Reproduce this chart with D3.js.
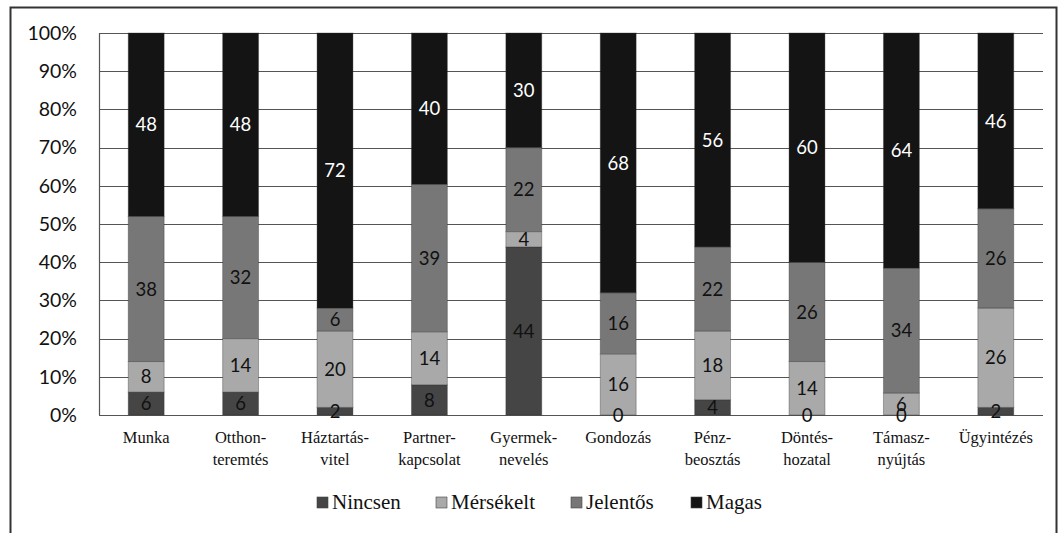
<!DOCTYPE html>
<html>
<head>
<meta charset="utf-8">
<script src="https://cdn.jsdelivr.net/npm/d3@7/dist/d3.min.js"></script>
<style>
  body { margin: 0; background: #fff; }
  svg { display: block; }
</style>
</head>
<body>
<svg id="chart" width="1061" height="533"></svg>
<script>
// Category labels (two-line labels split on "\n")
const categories = [
  "Munka", "Otthon-\nteremtés", "Háztartás-\nvitel", "Partner-\nkapcsolat", "Gyermek-\nnevelés",
  "Gondozás", "Pénz-\nbeosztás", "Döntés-\nhozatal", "Támasz-\nnyújtás", "Ügyintézés"
];
const seriesNames = ["Nincsen", "Mérsékelt", "Jelentős", "Magas"];
const nincsen   = [6, 6, 2, 8, 44, 0, 4, 0, 0, 2];
const merseklet = [8, 14, 20, 14, 4, 16, 18, 14, 6, 26];
const jelentos  = [38, 32, 6, 39, 22, 16, 22, 26, 34, 26];
const magas     = [48, 48, 72, 40, 30, 68, 56, 60, 64, 46];
const yTicks = [0, 0.1, 0.2, 0.3, 0.4, 0.5, 0.6, 0.7, 0.8, 0.9, 1];

const colors = ["#454545", "#a9a9a9", "#777777", "#141414"];
const labelColors = ["#111", "#111", "#111", "#fff"];
const SERIF = "Liberation Serif";
const SANS = "Lato";

const rows = categories.map((c, i) => ({
  cat: c,
  Nincsen: nincsen[i], "Mérsékelt": merseklet[i], "Jelentős": jelentos[i], Magas: magas[i]
}));

const svg = d3.select("#chart");
const plotLeft = 99, plotRight = 1043, plotTop = 33, plotBottom = 415;

// outer frame
svg.append("rect").attr("x", 10.5).attr("y", 7.5).attr("width", 1046).attr("height", 540)
  .attr("fill", "none").attr("stroke", "#333").attr("stroke-width", 2);

const x = d3.scaleBand().domain(categories).range([plotLeft, plotRight]).paddingInner(0.62).paddingOuter(0.31);
const y = d3.scaleLinear().domain([0, 1]).range([plotBottom, plotTop]);

// horizontal grid
svg.append("g").selectAll("line").data(yTicks).join("line")
  .attr("x1", plotLeft).attr("x2", plotRight)
  .attr("y1", d => Math.round(y(d)) + 0.5).attr("y2", d => Math.round(y(d)) + 0.5)
  .attr("stroke", "#555").attr("stroke-width", 1.2);
svg.append("line").attr("x1", plotLeft + 0.5).attr("x2", plotLeft + 0.5).attr("y1", plotTop).attr("y2", plotBottom)
  .attr("stroke", "#555").attr("stroke-width", 1.2);

// y tick labels
const yAxis = d3.axisLeft(y).tickValues(yTicks).tickFormat(d3.format(".0%")).tickSize(0).tickPadding(22);
const ya = svg.append("g").attr("transform", `translate(${plotLeft},0)`).call(yAxis);
ya.select(".domain").remove();
ya.attr("font-family", SANS).attr("font-size", 19.5);
ya.selectAll("text").attr("fill", "#111");

const stack = d3.stack().keys(seriesNames).offset(d3.stackOffsetExpand);
const layers = stack(rows);

const g = svg.append("g");
layers.forEach((layer, li) => {
  g.append("g").selectAll("rect").data(layer).join("rect")
    .attr("x", d => x(d.data.cat))
    .attr("width", x.bandwidth())
    .attr("y", d => y(d[1]))
    .attr("height", d => y(d[0]) - y(d[1]))
    .attr("fill", colors[li])
    .attr("stroke", "#2a2a2a").attr("stroke-opacity", 0.35).attr("stroke-width", 1);
});

// value labels
layers.forEach((layer, li) => {
  g.append("g").selectAll("text").data(layer).join("text")
    .style("font-family", SANS)
    .attr("x", d => x(d.data.cat) + x.bandwidth() / 2)
    .attr("y", d => (y(d[0]) + y(d[1])) / 2)
    .attr("dy", "0.36em")
    .attr("text-anchor", "middle")
    .style("font-size", "18.5px")
    .attr("fill", labelColors[li])
    .text(d => d.data[layer.key]);
});

// category labels
const xl = svg.append("g");
categories.forEach(c => {
  const t = xl.append("text")
    .style("font-family", SERIF)
    .style("font-size", "16.5px")
    .attr("x", x(c) + x.bandwidth() / 2)
    .attr("y", 443)
    .attr("text-anchor", "middle")
    .attr("fill", "#111");
  c.split("\n").forEach((line, i) => {
    t.append("tspan").attr("x", x(c) + x.bandwidth() / 2).attr("dy", i === 0 ? 0 : 22).text(line);
  });
});

// legend
const legendX = [317, 436, 571, 691];
const lg = svg.append("g");
seriesNames.forEach((s, i) => {
  lg.append("rect").attr("x", legendX[i]).attr("y", 497).attr("width", 11).attr("height", 11)
    .attr("fill", colors[i]).attr("stroke", "#444").attr("stroke-width", 0.6);
  lg.append("text")
    .style("font-family", SERIF).style("font-size", "21px")
    .attr("x", legendX[i] + 15).attr("y", 509)
    .attr("fill", "#111").text(s);
});
</script>
</body>
</html>
